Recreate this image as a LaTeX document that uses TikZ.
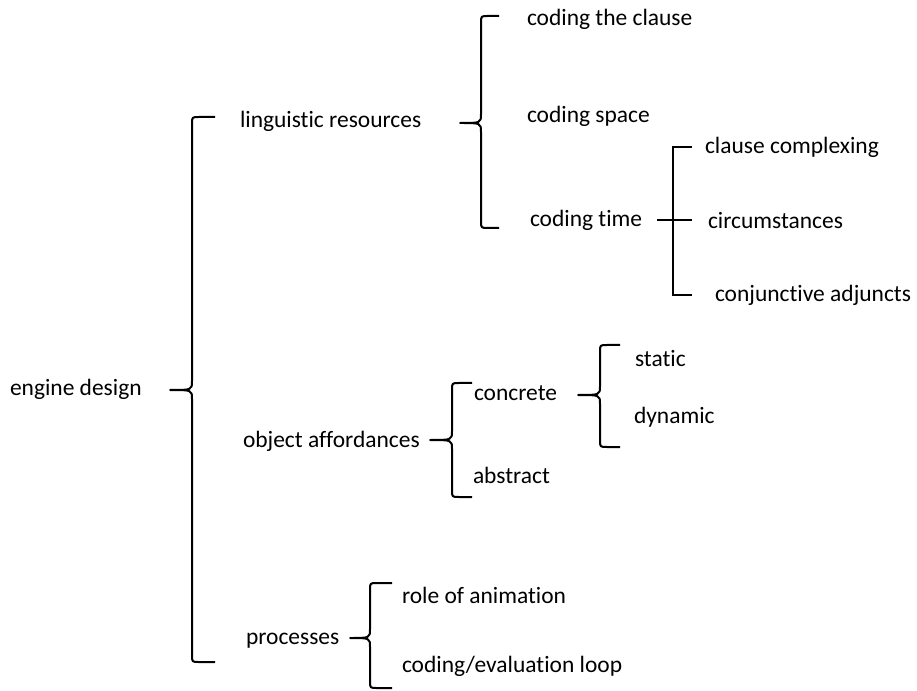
\documentclass[tikz,border=0pt]{standalone}
\usepackage{fontspec}
\setmainfont{Carlito}[Ligatures={NoCommon,NoContextual}]
\usetikzlibrary{%
    calc,
    positioning
}

\tikzset{
    term/.style={anchor=base west, inner sep=0pt, outer sep=0pt,
                 font=\fontsize{17.6}{20}\selectfont},
    brace/.style={draw=black, line width=1.5pt, line join=round}
}

\begin{document}
\begin{tikzpicture}[x=0.75pt, y=-0.75pt]
    \useasboundingbox (0,0) rectangle (917,691);

    % feature names
    \node[term] (eng)    at (10,396)  {engine design};
    \node[term] (ling)   at (240,128) {linguistic resources};
    \node[term] (obj)    at (243,447) {object affordances};
    \node[term] (proc)   at (246,644) {processes};
    %
    \node[term] (clause) at (527,26)  {coding the clause};
    \node[term] (space)  at (527,123) {coding space};
    \node[term] (time)   at (530,227) {coding time};
    \node[term] (cplx)   at (705,154) {clause complexing};
    \node[term] (circ)   at (708,229) {circumstances};
    \node[term] (conj)   at (715,302) {conjunctive adjuncts};
    %
    \node[term] (concr)  at (474,401) {concrete};
    \node[term] (abstr)  at (473,483) {abstract};
    \node[term] (static) at (635,367) {static};
    \node[term] (dyn)    at (634,423) {dynamic};
    %
    \node[term] (anim)   at (402,603) {role of animation};
    \node[term] (loop)   at (402,672) {coding/evaluation loop};

    % curly braces: spine/tip/hook/top/middle/bottom
    \foreach \Vx/\Tip/\Hook/\Top/\Mid/\Bot in {%
        192/170/215/117/390/662,
        481/460/499/16/123/228,
        452/430/472/383/440/497,
        600/578/620/345/395/447,
        370/350/392/583/638/688%
        }
        \draw[brace] (\Hook,\Top) -- (\Vx+7,\Top)
            .. controls (\Vx,\Top) .. (\Vx,\Top+7)
            -- (\Vx,\Mid-9)
            .. controls (\Vx,\Mid) .. (\Tip,\Mid)
            .. controls (\Vx,\Mid) .. (\Vx,\Mid+9)
            -- (\Vx,\Bot-7)
            .. controls (\Vx,\Bot) .. (\Vx+7,\Bot)
            -- (\Hook,\Bot);

    % square bracket under coding time
    \draw[brace, line join=miter] (692,147) -- (673,147) -- (673,295) -- (692,295);
    \draw[brace] (657,220) -- (692,220);
\end{tikzpicture}
\end{document}
